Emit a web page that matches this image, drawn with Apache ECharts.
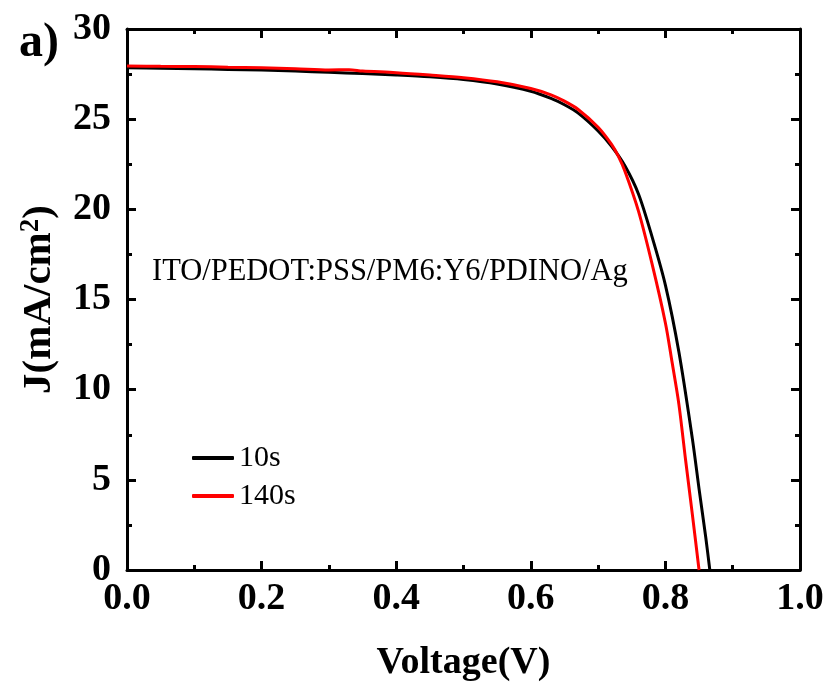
<!DOCTYPE html>
<html>
<head>
<meta charset="utf-8">
<script src="https://cdn.jsdelivr.net/npm/echarts@6/dist/echarts.min.js"></script>
<style>html,body{margin:0;padding:0;background:#fff}#c{width:828px;height:689px}</style>
</head>
<body>
<div id="c"></div>
<script>
const voltage10s = [0, 0.05, 0.1, 0.15, 0.2, 0.25, 0.3, 0.35, 0.4, 0.45, 0.5, 0.55, 0.6, 0.63, 0.65, 0.67, 0.7, 0.72, 0.74, 0.76, 0.78, 0.8, 0.82, 0.84, 0.85, 0.86, 0.866];
const current10s = [27.85, 27.83, 27.8, 27.76, 27.72, 27.67, 27.6, 27.53, 27.45, 27.35, 27.2, 26.95, 26.55, 26.15, 25.8, 25.35, 24.35, 23.5, 22.4, 20.85, 18.5, 15.8, 12.1, 7.3, 4.5, 1.8, 0];
const voltage140s = [0, 0.05, 0.1, 0.15, 0.2, 0.25, 0.3, 0.33, 0.35, 0.4, 0.45, 0.5, 0.55, 0.6, 0.63, 0.65, 0.67, 0.7, 0.72, 0.73, 0.74, 0.76, 0.78, 0.8, 0.81, 0.82, 0.83, 0.84, 0.85];
const current140s = [27.95, 27.93, 27.92, 27.88, 27.85, 27.8, 27.73, 27.74, 27.67, 27.58, 27.45, 27.3, 27.07, 26.7, 26.35, 26.0, 25.55, 24.55, 23.6, 22.95, 22.1, 19.9, 17.0, 13.7, 11.5, 9.2, 6.1, 3.1, 0];
const seriesNames = ['10s', '140s'];
const deviceLabel = 'ITO/PEDOT:PSS/PM6:Y6/PDINO/Ag';
const panelLabel = 'a)';
const xName = 'Voltage(V)';

const FONT = '"Liberation Serif", "Times New Roman", serif';
const pair = (xs, ys) => xs.map((x, i) => [x, ys[i]]);
const axisLine = {show: true, onZero: false, lineStyle: {color: '#000', width: 3}};
const tick = {show: true, inside: true, length: 9, lineStyle: {color: '#000', width: 3}};
const minor = {show: true, splitNumber: 2, length: 5, lineStyle: {color: '#000', width: 3}};

const chart = echarts.init(document.getElementById('c'));
chart.setOption({
  animation: false,
  backgroundColor: '#fff',
  grid: {left: 127, right: 28, top: 29, bottom: 119},
  xAxis: [{
    type: 'value', min: 0, max: 1, interval: 0.2, position: 'bottom',
    name: xName, nameLocation: 'middle', nameGap: 74,
    nameTextStyle: {fontFamily: FONT, fontWeight: 'bold', fontSize: 38, color: '#000'},
    axisLine, axisTick: tick, minorTick: minor, splitLine: {show: false},
    axisLabel: {fontFamily: FONT, fontWeight: 'bold', fontSize: 38, color: '#000', margin: 10,
      formatter: v => v.toFixed(1)}
  }, {
    type: 'value', min: 0, max: 1, interval: 0.2, position: 'top',
    axisLine, axisTick: tick, minorTick: minor, splitLine: {show: false}, axisLabel: {show: false}
  }],
  yAxis: [{
    type: 'value', min: 0, max: 30, interval: 5, position: 'left',
    name: '{b|J(mA/cm}{s|2}{b|)}', nameLocation: 'middle', nameGap: 66, nameRotate: 90,
    nameTextStyle: {rich: {
      b: {fontFamily: FONT, fontWeight: 'bold', fontSize: 41, color: '#000'},
      s: {fontFamily: FONT, fontWeight: 'bold', fontSize: 27, color: '#000', verticalAlign: 'top', padding: [0, 0, 16, 0]}
    }},
    axisLine, axisTick: tick, minorTick: minor, splitLine: {show: false},
    axisLabel: {fontFamily: FONT, fontWeight: 'bold', fontSize: 38, color: '#000', margin: 16}
  }, {
    type: 'value', min: 0, max: 30, interval: 5, position: 'right',
    axisLine, axisTick: tick, minorTick: minor, splitLine: {show: false}, axisLabel: {show: false}
  }],
  legend: {
    left: 187, top: 438, orient: 'vertical', itemWidth: 42, itemHeight: 4, itemGap: 8,
    icon: 'roundRect',
    textStyle: {fontFamily: FONT, fontSize: 30, color: '#000', lineHeight: 30},
    data: seriesNames
  },
  series: [{
    name: seriesNames[0], type: 'line', data: pair(voltage10s, current10s),
    showSymbol: false, symbol: 'none', smooth: 0.3,
    lineStyle: {color: '#000', width: 3}, itemStyle: {color: '#000'}, z: 3
  }, {
    name: seriesNames[1], type: 'line', data: pair(voltage140s, current140s),
    showSymbol: false, symbol: 'none', smooth: 0.3,
    lineStyle: {color: '#ff0000', width: 3}, itemStyle: {color: '#ff0000'}, z: 4
  }],
  graphic: [{
    type: 'text', left: 152, top: 256,
    style: {text: deviceLabel, font: '30.5px ' + FONT, fill: '#000'}
  }, {
    type: 'text', left: 19, top: 20,
    style: {text: panelLabel, font: 'bold 48px ' + FONT, fill: '#000'}
  }]
});
</script>
</body>
</html>
